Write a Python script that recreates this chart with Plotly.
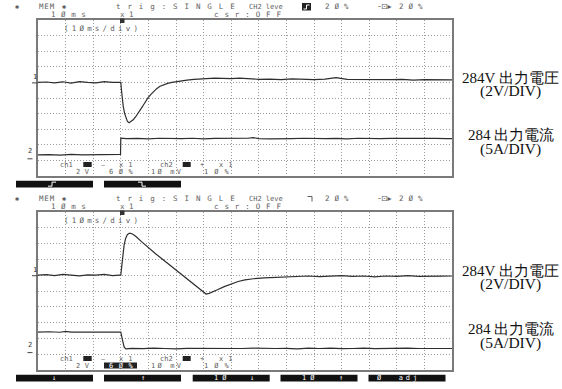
import plotly.graph_objects as go

W, H = 562, 389

# ---------------- captured waveforms (time in ms, trigger at 0) ----------------
# Panel 1: load step up (CH2 rising edge)
t_v1 = [-30, -27, -24, -21, -18, -15, -12, -9, -6, -3, -0.5,
        0.0, 0.3, 0.6, 0.9, 1.4, 1.9, 2.4, 3.0, 3.6, 4.5,
        5.4, 6.4, 7.3, 8.2, 9.0, 9.9, 11.0, 12.0, 13.0, 14.2,
        15.5, 17.0, 18.5, 20.0, 22.0, 24.0, 26.5, 28.7, 31.0, 34.0,
        37.0, 40.0, 43.0, 46.0,
        50, 54, 58, 62, 66, 70, 74, 78, 82, 86, 90, 94, 98, 102, 106, 110, 114, 117, 120]
v1 = [0.0, 0.05, -0.05, 0.08, -0.1, 0.1, 0.0, -0.05, 0.1, 0.0, 0.02,
      0.0, -1.2, -2.3, -3.1, -4.0, -4.6, -5.0, -5.16, -5.05, -4.8,
      -4.4, -3.95, -3.4, -2.9, -2.4, -1.95, -1.5, -1.1, -0.8, -0.5,
      -0.3, -0.12, 0.0, 0.1, 0.2, 0.3, 0.38, 0.45, 0.5, 0.55,
      0.52, 0.48, 0.55, 0.45,
      0.4, 0.42, 0.35, 0.45, 0.38, 0.35, 0.42, 0.6, 0.38, 0.35, 0.4, 0.3, 0.35, 0.4, 0.3, 0.35, 0.3, 0.35, 0.32]

t_i1 = [-30, -26, -22, -18, -14, -10, -6, -2, -0.1,
        0.0, 2, 6, 10, 14, 18, 22, 26, 30, 34, 38,
        42, 46, 48, 50, 54, 58, 62, 66, 70, 74,
        78, 82, 86, 90, 94, 98, 102, 106, 110, 114, 118, 120]
i1 = [1.25, 1.35, 1.2, 1.4, 1.25, 1.3, 1.35, 1.45, 1.4,
      6.6, 6.45, 6.55, 6.4, 6.6, 6.5, 6.45, 6.6, 6.4, 6.55, 6.5,
      6.45, 6.6, 6.8, 6.5, 6.4, 6.55, 6.5, 6.6, 6.45, 6.5,
      6.55, 6.4, 6.6, 6.5, 6.45, 6.55, 6.6, 6.45, 6.5, 6.55, 6.45, 6.5]

# Panel 2: load step down (CH2 falling edge)
t_v2 = [-30, -27, -24, -21, -18, -15, -12, -9, -6, -3, -0.5,
        0.0, 0.4, 0.8, 1.2, 1.7, 2.3, 3.0, 3.6, 4.5, 5.5,
        7.5, 10.0, 12.5, 15.0, 17.5, 20.0, 22.5, 25.0, 27.5, 29.5,
        30.9, 32.0, 33.5, 35.0, 37.5, 40.0, 42.5, 45.0, 48.0, 52.0,
        56, 60, 64, 68, 72, 76, 80, 84, 88, 92,
        96, 100, 104, 108, 112, 116, 120]
v2 = [0.0, 0.08, -0.05, 0.1, 0.0, -0.08, 0.05, 0.0, 0.1, -0.05, 0.0,
      0.0, 1.3, 2.7, 3.8, 4.6, 5.1, 5.3, 5.3, 5.15, 4.9,
      4.25, 3.45, 2.75, 2.05, 1.35, 0.7, 0.0, -0.75, -1.5, -2.05,
      -2.38, -2.3, -2.1, -1.85, -1.45, -1.1, -0.8, -0.6, -0.45, -0.35,
      -0.28, -0.2, -0.15, -0.1, -0.18, -0.1, -0.05, -0.15, -0.1, -0.2,
      -0.1, -0.15, -0.05, -0.15, -0.1, -0.12, -0.1]

t_i2 = [-30, -26, -22, -20, -18, -14, -10, -6, -2,
        0.0, 0.6, 1.2, 1.8,
        4, 8, 12, 16, 20, 24, 28,
        32, 36, 40, 44, 48, 52, 56, 60, 64, 68, 72, 76, 80, 84, 88, 92, 96, 100, 104, 108, 112, 116, 120]
i2 = [6.5, 6.6, 6.45, 6.75, 6.5, 6.55, 6.45, 6.6, 6.5,
      6.5, 4.0, 1.8, 1.2,
      1.35, 1.25, 1.4, 1.3, 1.2, 1.35, 1.3,
      1.45, 1.25, 1.35, 1.3, 1.4, 1.25, 1.3, 1.35, 1.2, 1.4,
      1.3, 1.45, 1.25, 1.3, 1.4, 1.25, 1.35, 1.3, 1.45, 1.3, 1.25, 1.4, 1.3]

# screen settings: 10 ms/div over 15 div, trigger position 20 %
T_RANGE = [-30, 120]
V_RANGE = [-12, 8]      # CH1 2 V/div, ground marker 6 div up
I_RANGE = [-5.5, 44.5]  # CH2 5 A/div, ground marker 1.1 div up

VOLT_LABEL = "284V 出力電圧"
VOLT_SCALE = "(2V/DIV)"
CURR_LABEL = "284 出力電流"
CURR_SCALE = "(5A/DIV)"

# ---------------- helpers (pixel -> paper) ----------------
def px(x):
    return x / W

def py(y):
    return 1 - y / H

MONO = "DejaVu Sans Mono"
SCOPE_GRAY = "#5e5e5e"
TRACE = "#2e2e2e"

annotations = []
shapes = []

def txt(x, y, s, size=8, color=SCOPE_GRAY, family=MONO, anchor="left", bg=None, ls=None):
    if ls:
        s = f'<span style="letter-spacing:{ls}px">{s}</span>'
    a = dict(x=px(x), y=py(y), xref="paper", yref="paper", text=s, showarrow=False,
             xanchor=anchor, yanchor="middle", borderpad=0,
             font=dict(size=size, color=color, family=family))
    if bg:
        a["bgcolor"] = bg
    annotations.append(a)

def rect(x0, y0, x1, y1, color="black"):
    shapes.append(dict(type="rect", xref="paper", yref="paper",
                       x0=px(x0), x1=px(x1), y0=py(y1), y1=py(y0),
                       fillcolor=color, line=dict(width=0), layer="above"))

def poly(points, color, width=1):
    d = "M " + " L ".join(f"{px(a)},{py(b)}" for a, b in points)
    shapes.append(dict(type="path", xref="paper", yref="paper", path=d,
                       line=dict(color=color, width=width), layer="above"))

def hline(x0, x1, y, color=SCOPE_GRAY, width=1):
    poly([(x0, y), (x1, y)], color, width)


def panel_text(top, bottom, ch1_y, ch2_y, falling, bars):
    # header lines
    h1, h2 = top - 13, top - 5.5
    txt(17, h1, "✱", size=7, anchor="center")
    txt(38, h1, "MEM", size=7.5, ls=0.8)
    txt(64.5, h1, "✱", size=7, anchor="center")
    txt(115, h1, "trig:SINGLE", size=7.5, ls=6.9)
    txt(248, h1, "CH2 leve", size=7)
    if falling:
        poly([(307.5, h1 - 2.5), (312, h1 - 2.5), (312, h1 + 2.5)], SCOPE_GRAY, 1)
    else:
        rect(302, h1 - 4, 311, h1 + 3.5, "#222")
        poly([(303.5, h1 + 2), (306.5, h1 + 2), (306.5, h1 - 2), (309.5, h1 - 2)], "white", 1)
    txt(324, h1, "2Ø%", size=7.5, ls=5)
    txt(377, h1, "-⊡▸", size=8, family="DejaVu Sans")
    txt(398, h1, "2Ø%", size=7.5, ls=5)
    txt(50, h2, "1Øms", size=7.5, ls=5.6)
    txt(119, h2, "x1", size=7.5, ls=4.5)
    txt(213, h2, "csr:OFF", size=7.5, ls=5.9)
    txt(63, top + 8, "(1Øms/div)", size=7.5, ls=3.2)
    # trigger point marker
    rect(120, top - 1.5, 124.5, top + 3, "#333")

    # channel ground markers
    txt(35, ch1_y - 5.5, "1", size=7, color="#333", anchor="center")
    hline(32, 37.5, ch1_y + 0.5, "#444", 1)
    txt(30, ch2_y - 8, "2", size=7, color="#333", anchor="center")
    hline(27.5, 32.5, ch2_y, "#444", 1)

    # channel settings read-out
    l1, l2 = bottom - 11.5, bottom - 4.5
    txt(59, l1, "ch1", size=7)
    rect(83.3, l1 - 2.5, 91.7, l1 + 2.5, "#222")
    txt(102.5, l1, "—", size=6.5, anchor="center")
    txt(118, l1, "x1", size=7, ls=5)
    txt(75, l2, "2V", size=7, ls=4.5)
    if falling:
        rect(104, l2 - 3, 137, l2 + 3, "#222")
        txt(108, l2, "6Ø%", size=7, color="white", ls=5.5)
    else:
        txt(108, l2, "6Ø%", size=7, ls=5.5)
    txt(159, l1, "ch2", size=7)
    rect(182.7, l1 - 2.5, 190.7, l1 + 2.5, "#222")
    txt(202, l1, "+", size=7, anchor="center")
    txt(218, l1, "x1", size=7, ls=5)
    txt(150, l2, "1Ø mV", size=7, ls=2.2)
    txt(203, l2, "1Ø%", size=7, ls=6)

    # soft-key bars
    yb0, yb1 = bottom + 4.8, bottom + 11.5
    yc = (yb0 + yb1) / 2
    lefts = [16, 104, 192.7, 280.5, 368.5][:len(bars)]
    for x0, lab in zip(lefts, bars):
        rect(x0, yb0, x0 + 77, yb1, "#111")
        if lab == "rise":
            poly([(x0 + 32, yc + 2), (x0 + 36, yc + 2), (x0 + 36, yc - 2), (x0 + 40, yc - 2)], "white", 1)
        elif lab == "fall":
            poly([(x0 + 34, yc - 2), (x0 + 38, yc - 2), (x0 + 38, yc + 2), (x0 + 42, yc + 2)], "white", 1)
        else:
            for dx, s, sp in lab:
                txt(x0 + dx, yc, s, size=7, color="white", anchor="center", ls=sp)

    # probe labels on the right
    serif = "Liberation Serif"
    txt(510.5, ch1_y - 4.5, VOLT_LABEL, size=15, color="#111", family=serif, anchor="center")
    txt(510.5, ch1_y + 9, VOLT_SCALE, size=15.5, color="#111", family=serif, anchor="center")
    txt(510.5, ch2_y - 23.5, CURR_LABEL, size=15, color="#111", family=serif, anchor="center")
    txt(510.5, ch2_y - 10, CURR_SCALE, size=15.5, color="#111", family=serif, anchor="center")


# ---------------- figure ----------------
fig = go.Figure()
line_style = dict(color=TRACE, width=1.2)
fig.add_trace(go.Scatter(x=t_v1, y=v1, mode="lines", line=line_style, xaxis="x", yaxis="y"))
fig.add_trace(go.Scatter(x=t_i1, y=i1, mode="lines", line=line_style, xaxis="x", yaxis="y3"))
fig.add_trace(go.Scatter(x=t_v2, y=v2, mode="lines", line=line_style, xaxis="x2", yaxis="y2"))
fig.add_trace(go.Scatter(x=t_i2, y=i2, mode="lines", line=line_style, xaxis="x2", yaxis="y4"))

frame = dict(showgrid=True, griddash="1px,2px", gridcolor="#9a9a9a", gridwidth=1,
             showticklabels=False, ticks="", zeroline=False,
             showline=True, mirror=True, linecolor="#7a7a7a", linewidth=1.5)
xdom = [px(38), px(452)]
P1 = (20, 176)
P2 = (212, 370)

fig.update_layout(
    width=W, height=H, margin=dict(l=0, r=0, t=0, b=0),
    paper_bgcolor="white", plot_bgcolor="white", showlegend=False,
    xaxis=dict(domain=xdom, range=T_RANGE, dtick=10, tick0=0, anchor="y", **frame),
    yaxis=dict(domain=[py(P1[1]), py(P1[0])], range=V_RANGE, dtick=2, tick0=0, anchor="x", **frame),
    yaxis3=dict(range=I_RANGE, overlaying="y", anchor="x", visible=False),
    xaxis2=dict(domain=xdom, range=T_RANGE, dtick=10, tick0=0, anchor="y2", **frame),
    yaxis2=dict(domain=[py(P2[1]), py(P2[0])], range=V_RANGE, dtick=2, tick0=0, anchor="x2", **frame),
    yaxis4=dict(range=I_RANGE, overlaying="y2", anchor="x2", visible=False),
)

panel_text(P1[0], P1[1], ch1_y=82.4, ch2_y=158.8, falling=False, bars=["rise", "fall"])
panel_text(P2[0], P2[1], ch1_y=275.2, ch2_y=352.6, falling=True,
           bars=[[(38.5, "↓", None)], [(38.5, "↑", None)],
                 [(29, "1Ø", 4), (59, "↓", None)], [(29, "1Ø", 4), (60, "↑", None)],
                 [(30, "Ø  adj", 3)]])

fig.update_layout(annotations=annotations, shapes=shapes)
fig.write_html("out.html")
